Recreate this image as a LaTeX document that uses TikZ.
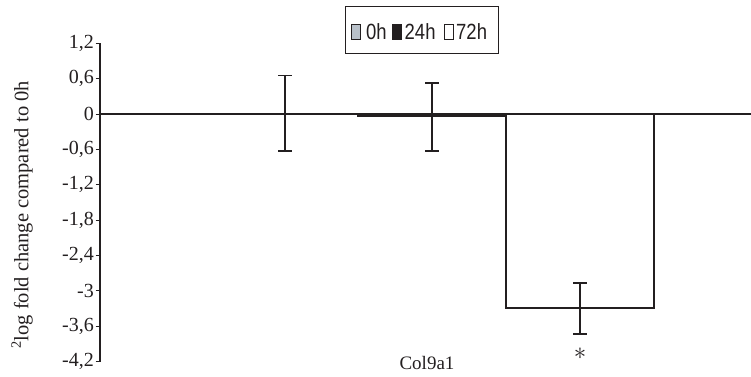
\documentclass[tikz,border=0pt]{standalone}
\usepackage{fontspec}
\setmainfont{Liberation Serif}
\newfontfamily\legfont[FakeStretch=0.84]{Liberation Sans}
\definecolor{axisgray}{HTML}{231F20}
\definecolor{lightgray}{HTML}{B9C1CA}
\tikzset{
  axisline/.style={draw=axisgray, line width=1.3pt},
  tickline/.style={draw=axisgray, line width=1pt},
  ticklabel/.style={anchor=east, inner sep=0pt, font=\fontsize{20}{22}\selectfont, text=axisgray},
  errbar/.style={draw=axisgray, line width=1.8pt},
  legsq/.style={draw=axisgray, line width=1pt, minimum width=8.5pt, minimum height=14.5pt, inner sep=0pt},
  legtxt/.style={anchor=west, inner sep=0pt, font=\legfont\fontsize{22}{24}\selectfont, text=axisgray},
}
\begin{document}
\begin{tikzpicture}[x=1pt,y=-1pt]
\useasboundingbox (0,0) rectangle (751,376);
% bars
\fill[axisgray] (357,112.5) rectangle (505,117);
\draw[axisline, line width=1.6pt, fill=white] (506,114) rectangle (654,308);
% zero line
\coordinate (z0) at (100,114);
\coordinate (z1) at (751,114);
\draw[draw=axisgray, line width=1.1pt] (z0) -- (z1);
% y axis
\coordinate (ytop) at (100,43.4);
\coordinate (ybot) at (100,361.5);
\draw[axisline] (ytop) -- (ybot);
\foreach \v/\lab in {1.2/{1,2},0.6/{0,6},0/0,-0.6/{-0,6},-1.2/{-1,2},-1.8/{-1,8},-2.4/{-2,4},-3/{-3},-3.6/{-3,6},-4.2/{-4,2}}{
  \pgfmathsetmacro{\yy}{114-\v*58.9}
  \draw[tickline] (95.5,\yy) -- (100,\yy);
  \node[ticklabel] at (94,\yy) {\lab};
}
% error bars
\foreach \n/\x/\a/\b in {e0/285/75.5/151, e24/432/83/151, e72/580/283/334}{
  \coordinate (\n t) at (\x,\a);
  \coordinate (\n b) at (\x,\b);
  \draw[errbar] (\n t) -- (\n b);
  \draw[errbar] ([xshift=-7pt]\n t) -- ([xshift=7pt]\n t);
  \draw[errbar] ([xshift=-7pt]\n b) -- ([xshift=7pt]\n b);
}
% significance star
\node[inner sep=0pt, text=axisgray, font=\fontsize{27}{30}\selectfont] (star) at (580,354) {$\ast$};
% category label
\node[inner sep=0pt, font=\fontsize{19}{22}\selectfont, text=axisgray] (cat) at (427,363) {Col9a1};
% y title
\node[rotate=90, inner sep=0pt, font=\fontsize{20.5}{24}\selectfont, text=axisgray] (ytitle) at (22,215) {\textsuperscript{2}log fold change compared to 0h};
% legend
\node[draw=axisgray, line width=1pt, minimum width=153pt, minimum height=47pt, inner sep=0pt] (leg) at (421.5,29.5) {};
\node[legsq, fill=lightgray] (sq0) at (356,32) {};
\node[legtxt] (t0) at (366,32) {0h};
\node[legsq, fill=axisgray] (sq24) at (397,32) {};
\node[legtxt] (t24) at (404.5,32) {24h};
\node[legsq, fill=white] (sq72) at (449,32) {};
\node[legtxt] (t72) at (456,32) {72h};
\end{tikzpicture}
\end{document}
